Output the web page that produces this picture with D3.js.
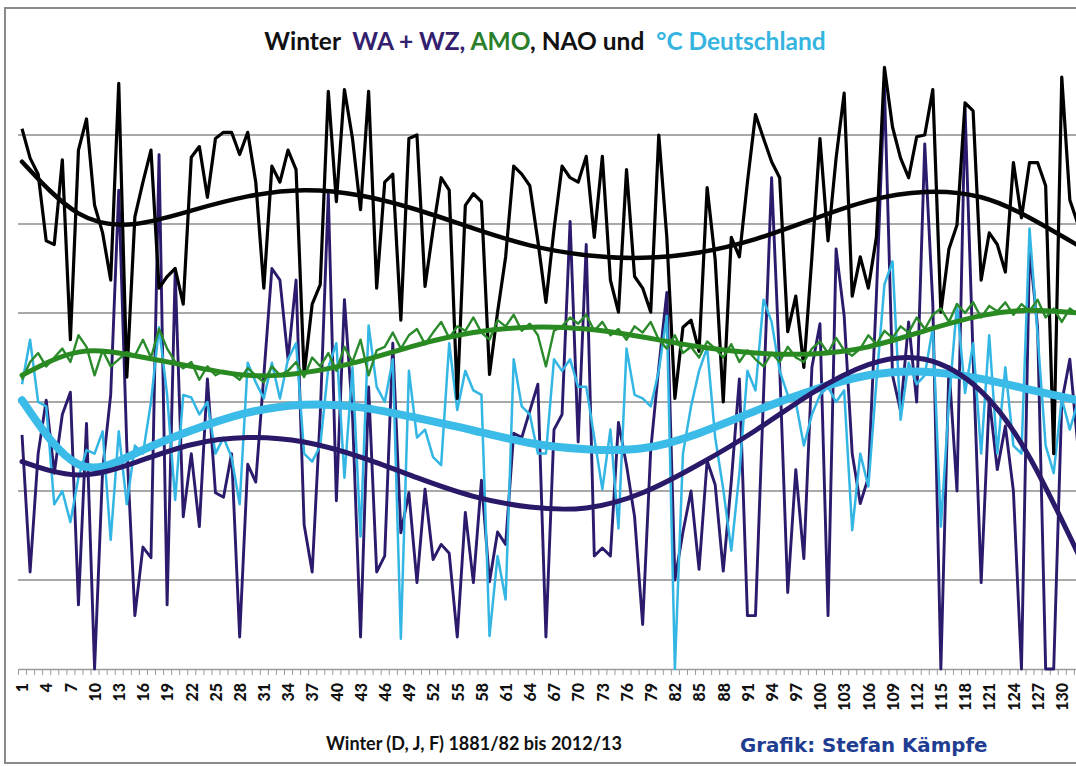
<!DOCTYPE html>
<html><head><meta charset="utf-8">
<script src="https://cdn.jsdelivr.net/npm/d3@7"></script>
<style>body{margin:0;background:#fff;} svg{display:block;font-family:Lato,"Open Sans",sans-serif;}</style>
</head><body><svg id="chart" width="1076" height="767"></svg>
<script>
// Categories: winters 1881/82 (1) ... 2012/13 (132)
const years = d3.range(1, 133);
const tickLabels = years.filter(d => (d - 1) % 3 === 0);

// NAO (black), in chart units (gridline = 1)
const nao = [6.07,5.74,5.56,4.81,4.77,5.72,3.70,5.83,6.18,5.21,4.90,4.37,6.58,3.28,5.08,5.47,5.83,4.28,4.41,4.50,
4.10,5.75,5.87,5.30,5.96,6.03,6.03,5.78,6.03,5.47,4.28,5.65,5.47,5.83,5.61,3.31,4.10,4.32,6.49,5.25,
6.51,5.96,5.16,6.49,4.28,5.47,5.56,3.92,5.96,6.00,4.30,4.94,5.52,5.38,3.04,5.21,5.34,5.25,3.31,4.01,
4.63,5.65,5.56,5.43,4.81,4.12,4.94,5.65,5.52,5.47,5.76,4.85,5.76,4.37,4.01,5.61,4.41,4.28,4.01,6.00,
4.85,3.04,3.84,3.92,3.57,5.41,4.60,3.00,4.85,4.63,5.47,6.23,5.96,5.70,5.52,3.79,4.19,3.39,4.63,5.96,
4.81,5.74,6.47,4.19,4.63,4.28,4.85,6.76,6.09,5.74,5.52,5.98,6.00,6.51,4.01,4.72,4.99,6.36,6.27,4.37,
4.90,4.77,4.46,5.69,5.07,5.69,5.69,5.43,2.42,6.65,5.27,5.00];

// WA + WZ (dark purple)
const wawz = [2.63,1.09,2.42,3.02,2.20,2.86,3.11,0.72,2.76,0.00,2.24,3.08,5.38,2.50,0.60,1.37,1.25,5.78,0.72,4.46,
1.71,2.42,1.60,3.26,1.98,1.93,2.42,0.36,2.30,2.10,3.30,4.50,4.37,3.48,4.37,1.62,1.09,2.86,5.34,1.89,
4.15,2.86,0.36,3.17,1.09,1.27,3.66,1.53,1.98,0.97,2.02,1.23,1.40,1.30,0.36,1.76,0.97,2.12,0.98,1.54,
1.40,2.65,2.60,2.90,3.20,0.36,2.69,2.86,5.03,2.55,4.77,1.27,1.36,1.27,2.77,2.29,1.71,0.50,2.46,3.39,
4.23,1.00,1.54,2.00,1.12,2.34,2.07,1.10,2.11,3.26,0.60,0.60,3.08,5.52,3.39,0.86,2.24,1.24,3.39,3.88,
0.60,4.72,3.97,2.42,1.86,2.15,4.19,6.55,3.30,2.90,3.90,3.00,5.90,4.10,0.00,3.40,2.00,6.30,3.50,0.97,
3.04,2.24,2.73,2.00,0.00,4.72,3.84,0.00,0.00,3.00,3.48,2.50];

// AMO (green)
const amo = [3.25,3.45,3.55,3.40,3.50,3.60,3.45,3.75,3.62,3.30,3.58,3.40,3.48,3.56,3.52,3.70,3.50,3.82,3.60,3.45,
3.38,3.45,3.25,3.40,3.30,3.35,3.32,3.25,3.38,3.30,3.22,3.40,3.30,3.35,3.45,3.28,3.50,3.40,3.55,3.35,
3.62,3.45,3.70,3.30,3.58,3.62,3.78,3.60,3.75,3.82,3.65,3.78,3.90,3.72,3.85,3.80,3.95,3.78,3.70,3.92,
3.85,3.98,3.80,3.88,3.75,3.40,3.80,3.85,3.95,3.88,3.98,3.80,3.90,3.75,3.82,3.70,3.85,3.78,3.90,3.70,
3.60,3.75,3.55,3.62,3.50,3.68,3.60,3.50,3.65,3.45,3.58,3.48,3.40,3.55,3.45,3.62,3.50,3.45,3.60,3.68,
3.55,3.72,3.58,3.52,3.60,3.75,3.65,3.80,3.72,3.85,3.78,3.95,3.82,3.98,4.05,3.90,4.10,4.00,4.12,3.95,
4.08,4.02,4.12,3.98,4.10,4.02,4.15,3.95,4.05,3.90,4.05,3.98];

// °C Deutschland (light blue)
const tempDE = [3.20,3.70,3.00,2.95,1.85,2.00,1.65,2.15,2.46,2.42,2.67,1.45,2.67,1.85,2.51,2.42,3.00,3.84,3.08,1.90,
3.08,3.05,2.86,3.00,2.42,2.60,2.38,1.85,3.44,3.22,3.04,3.44,3.04,3.48,3.66,2.42,2.33,2.51,3.39,3.66,
2.15,3.39,1.49,3.86,3.17,3.00,3.48,0.34,3.35,2.60,2.69,2.38,2.29,3.66,2.91,3.35,3.13,3.08,0.37,1.27,
0.78,3.48,2.95,2.86,2.42,2.42,3.48,3.35,3.48,3.17,3.17,2.60,2.02,2.69,1.58,3.60,3.08,3.04,2.95,3.35,
3.97,0.00,2.42,2.95,3.35,3.61,2.60,2.02,1.33,2.20,3.35,3.13,4.15,3.90,3.35,3.08,3.00,2.51,2.86,3.08,
3.17,3.00,3.13,1.56,2.42,2.05,3.22,4.32,4.58,2.80,3.44,3.20,3.30,3.84,1.60,3.00,4.10,3.10,3.66,2.42,
3.75,2.42,3.39,2.51,2.42,4.95,3.75,2.51,2.20,3.04,2.69,3.00];

// Polynomial trend lines, read at these winters
const trendYears = [1,8,15,22,29,36,43,50,57,64,71,78,85,92,99,106,113,120,126,132];
const naoTrend   = [5.70,5.12,5.00,5.15,5.31,5.38,5.32,5.16,4.95,4.76,4.65,4.62,4.68,4.83,5.05,5.26,5.36,5.30,5.07,4.76];
const wawzTrend  = [2.33,2.18,2.32,2.52,2.60,2.55,2.38,2.15,1.94,1.82,1.81,1.98,2.30,2.68,3.10,3.42,3.48,3.12,2.38,1.30];
const amoTrend   = [3.30,3.56,3.52,3.40,3.30,3.33,3.46,3.64,3.78,3.84,3.82,3.73,3.62,3.55,3.54,3.62,3.80,3.97,4.03,4.00];
const tempTrend  = [3.02,2.30,2.42,2.68,2.88,2.97,2.94,2.82,2.68,2.54,2.47,2.48,2.65,2.90,3.13,3.30,3.34,3.26,3.14,3.02];

const gridValues = [1,2,3,4,5,6];

const svg = d3.select("#chart");
const W = 1076, H = 767;
const step = 8.06, left = 18;
const x = d3.scaleLinear().domain([0.5, 132.5]).range([left, left + 132 * step]);
const y = d3.scaleLinear().domain([0, 7]).range([669, 46]);

svg.append("rect").attr("width", W).attr("height", H).attr("fill", "#fff");
// frame
svg.append("rect").attr("x", 5).attr("y", 8).attr("width", W + 10).attr("height", 755)
  .attr("fill", "none").attr("stroke", "#8a8a8a").attr("stroke-width", 2);

// grid
svg.append("g").selectAll("line").data(gridValues).join("line")
  .attr("x1", left).attr("x2", W).attr("y1", d => y(d)).attr("y2", d => y(d))
  .attr("stroke", "#8c8c8c").attr("stroke-width", 1.5);

// axis with minor ticks at category boundaries
const bounds = d3.range(0.5, 133, 1);
const axG = svg.append("g").attr("transform", `translate(0,${y(0)})`)
  .call(d3.axisBottom(x).tickValues(bounds).tickSize(6).tickSizeOuter(0).tickFormat(""));
axG.select(".domain").attr("stroke", "#9a9a9a").attr("stroke-width", 1.5);
axG.selectAll(".tick line").attr("stroke", "#9a9a9a").attr("stroke-width", 1);

const labG = svg.append("g").attr("transform", `translate(0,${y(0)})`)
  .call(d3.axisBottom(x).tickValues(tickLabels).tickSize(0).tickFormat(d3.format("d")));
labG.select(".domain").remove();
labG.selectAll("text")
  .attr("transform", "rotate(-90)").attr("text-anchor", "end")
  .attr("x", -14).attr("y", 0).attr("dy", "0.36em")
  .attr("font-family", "Lato").attr("font-weight", 900).attr("font-size", 16).attr("fill", "#111");

// lines
const plot = svg.append("g");
const line = d3.line().x((d, i) => x(years[i])).y(d => y(d)).curve(d3.curveLinear);
const tline = d3.line().x((d, i) => x(trendYears[i])).y(d => y(d)).curve(d3.curveNatural);

const raw = [
  {data: wawz, color: "#2c1a6c", w: 2.9},
  {data: tempDE, color: "#33b6e4", w: 2.5},
  {data: nao, color: "#000000", w: 3.2},
  {data: amo, color: "#2b8a2b", w: 2.4}
];
raw.forEach(s => plot.append("path").attr("d", line(s.data)).attr("fill", "none")
  .attr("stroke", s.color).attr("stroke-width", s.w).attr("stroke-linejoin", "round"));

const trends = [
  {data: tempTrend, color: "#3bbbe8", w: 8},
  {data: wawzTrend, color: "#2a1868", w: 5},
  {data: amoTrend, color: "#2a8a22", w: 5},
  {data: naoTrend, color: "#050505", w: 4.5}
];
trends.forEach(s => plot.append("path").attr("d", tline(s.data)).attr("fill", "none")
  .attr("stroke", s.color).attr("stroke-width", s.w).attr("stroke-linecap", "round"));

// title
const title = svg.append("text").attr("x", 545).attr("y", 50).attr("text-anchor", "middle")
  .attr("font-family", "Lato").attr("font-weight", "bold").attr("font-size", 24.5)
  .style("white-space", "pre");
[["Winter", "#111"], ["  WA + WZ,", "#33206e"], [" AMO", "#2b7f2b"], [",", "#111"],
 [" NAO und  ", "#111"], ["°C Deutschland", "#36b4e0"]]
  .forEach(([t, c]) => title.append("tspan").text(t).attr("fill", c));

// footer
svg.append("text").attr("x", 326).attr("y", 750)
  .attr("font-family", "Lato").attr("font-weight", "bold").attr("font-size", 18).attr("fill", "#111")
  .text("Winter (D, J, F) 1881/82 bis 2012/13");
svg.append("text").attr("x", 740).attr("y", 752)
  .attr("font-family", "DejaVu Sans, sans-serif").attr("font-weight", "bold").attr("font-size", 19.8)
  .attr("fill", "#1f3d91").text("Grafik: Stefan Kämpfe");
</script></body></html>
